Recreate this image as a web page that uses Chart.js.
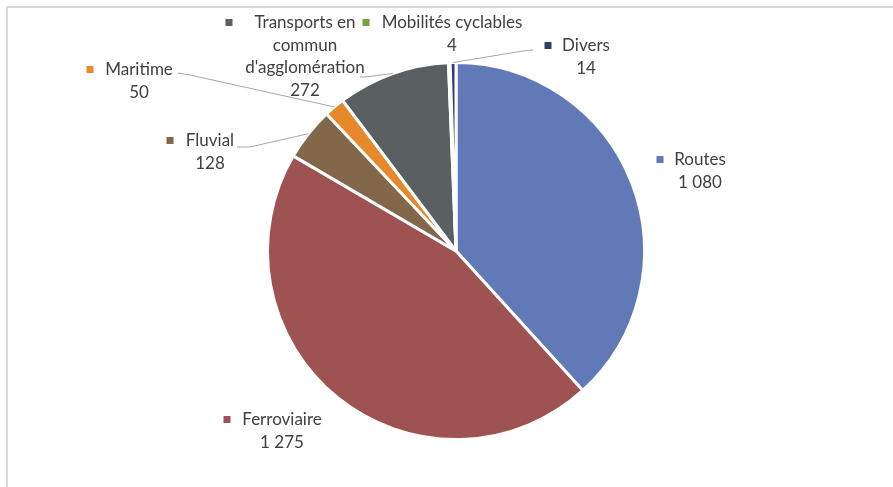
<!DOCTYPE html>
<html lang="fr">
<head>
<meta charset="utf-8">
<title>Répartition par mode</title>
<script src="https://cdn.jsdelivr.net/npm/chart.js@4.4.1/dist/chart.umd.min.js"></script>
<style>
  html, body { margin: 0; padding: 0; background: #ffffff; overflow: hidden; }
  #wrap { position: relative; width: 893px; height: 487px; }
  #frame {
    position: absolute; left: 6px; top: 6px; width: 900px; height: 490px;
    border-top: 2px solid #d9d9d9; border-left: 2px solid #d9d9d9;
  }
  #chart { position: absolute; left: 0; top: 0; }
</style>
</head>
<body>
<div id="wrap">
  <div id="frame"></div>
  <canvas id="chart" width="893" height="487"></canvas>
</div>
<script>
'use strict';

/* ── Data ───────────────────────────────────────── */
var modes  = ['Routes', 'Ferroviaire', 'Fluvial', 'Maritime',
              "Transports en commun d'agglomération", 'Mobilités cyclables', 'Divers'];
var values = [1080, 1275, 128, 50, 272, 4, 14];
var colors = ['#6279b8', '#9e5252', '#83674b', '#e6892a', '#5a5f61', '#72a33a', '#2f3f6c'];

/* label text lines (first line gets the colour key) */
var labelLines = [
  ['Routes'],
  ['Ferroviaire'],
  ['Fluvial'],
  ['Maritime'],
  ['Transports en', 'commun', "d'agglomération"],
  ['Mobilités cyclables'],
  ['Divers']
];

/* ── Label layout: text centre x, first line y, key x, leader bends ── */
var labelPos = [
  { x: 700, y: 160, key: 660 },
  { x: 282, y: 420, key: 227 },
  { x: 210, y: 141, key: 170 },
  { x: 139, y: 70,  key: 90 },
  { x: 305, y: 23,  key: 229 },
  { x: 452, y: 23,  key: 366 },
  { x: 586, y: 46,  key: 548 }
];
var leaders = [
  null,
  null,
  [[250, 147], [237, 147]],
  [[190, 75], [178, 73]],
  [[365, 77], [360, 77]],
  null,
  [[523, 51], [533, 50]]
];

function fmt(v) {
  return String(v).replace(/\B(?=(\d{3})+(?!\d))/g, ' ');
}

var FONT = "17px Lato, sans-serif";
var LINE_H = 22.5;

/* ── Plugin: outside labels with leader lines ───── */
var outsideLabels = {
  id: 'outsideLabels',
  afterDatasetsDraw: function (chart) {
    var ctx = chart.ctx;
    var arcs = chart.getDatasetMeta(0).data;
    ctx.save();

    /* leader lines from the middle of each arc's outer edge */
    ctx.strokeStyle = '#a6a6a6';
    ctx.lineWidth = 1;
    arcs.forEach(function (arc, i) {
      var pts = leaders[i];
      if (!pts) return;
      var p = arc.getProps(['x', 'y', 'startAngle', 'endAngle', 'outerRadius'], true);
      var mid = (p.startAngle + p.endAngle) / 2;
      var sx = p.x + Math.cos(mid) * p.outerRadius;
      var sy = p.y + Math.sin(mid) * p.outerRadius;
      ctx.beginPath();
      ctx.moveTo(sx, sy);
      pts.forEach(function (q) { ctx.lineTo(q[0], q[1]); });
      ctx.stroke();
    });

    /* label text + colour key */
    ctx.font = FONT;
    ctx.textAlign = 'center';
    ctx.textBaseline = 'middle';
    arcs.forEach(function (arc, i) {
      var pos = labelPos[i];
      var lines = labelLines[i].concat([fmt(values[i])]);
      ctx.fillStyle = '#404040';
      lines.forEach(function (t, k) {
        ctx.fillText(t, pos.x, pos.y + k * LINE_H);
      });
      ctx.fillStyle = colors[i];
      ctx.fillRect(pos.key - 3.5, pos.y - 4, 7, 7);
    });
    ctx.restore();
  }
};

new Chart(document.getElementById('chart'), {
  type: 'pie',
  data: {
    labels: modes,
    datasets: [{
      data: values,
      backgroundColor: colors,
      borderColor: '#ffffff',
      borderWidth: 3
    }]
  },
  options: {
    responsive: false,
    animation: false,
    layout: { padding: { top: 61, bottom: 46, left: 200, right: 181 } },
    plugins: {
      legend: { display: false },
      tooltip: { enabled: false }
    }
  },
  plugins: [outsideLabels]
});
</script>
</body>
</html>
